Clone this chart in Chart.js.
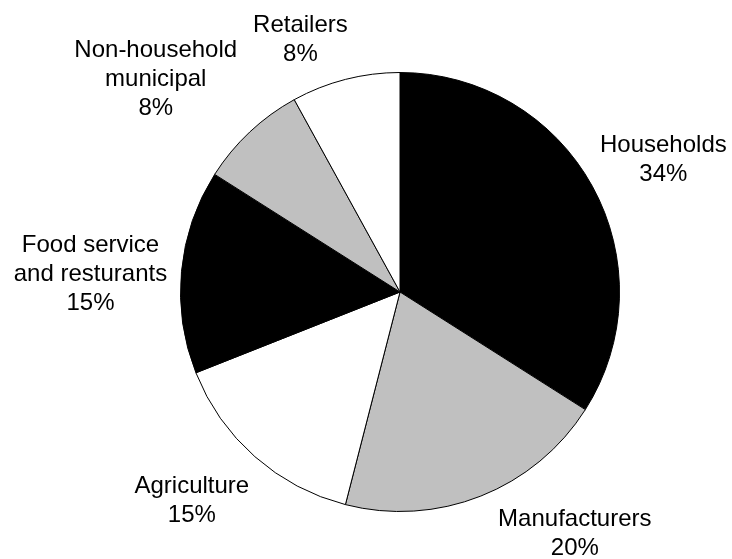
<!DOCTYPE html>
<html>
<head>
<meta charset="utf-8">
<script src="https://cdn.jsdelivr.net/npm/chart.js@4"></script>
<style>
  html, body { margin: 0; padding: 0; background: #fff; }
  #wrap { width: 732px; height: 559px; }
</style>
</head>
<body>
<div id="wrap"><canvas id="c" width="732" height="559"></canvas></div>
<script>
// Data
const categories = ["Households", "Manufacturers", "Agriculture", "Food service and resturants", "Non-household municipal", "Retailers"];
const labelLines = [["Households"], ["Manufacturers"], ["Agriculture"], ["Food service", "and resturants"], ["Non-household", "municipal"], ["Retailers"]];
const shares = [34, 20, 15, 15, 8, 8];

// Styles / layout (kept separate from data)
const sliceColors = ["#000000", "#c0c0c0", "#ffffff", "#000000", "#c0c0c0", "#ffffff"];
// label anchor offsets relative to the outer edge point at each slice's mid-angle
const labelOffsets = [[71, -34], [94, 30], [-63, 36], [-91, -19], [-94, -75], [-45, -47]];
const labelFont = '24px "Liberation Sans", Arial, sans-serif';
const lineHeight = 29;

const labelPlugin = {
  id: 'sliceLabels',
  afterDatasetsDraw(chart) {
    const ctx = chart.ctx;
    const meta = chart.getDatasetMeta(0);
    ctx.save();
    ctx.font = labelFont;
    ctx.fillStyle = '#000';
    ctx.textAlign = 'center';
    ctx.textBaseline = 'alphabetic';
    meta.data.forEach((arc, i) => {
      const p = arc.getProps(['x', 'y', 'startAngle', 'endAngle', 'outerRadius'], true);
      const mid = (p.startAngle + p.endAngle) / 2;
      const px = p.x + Math.cos(mid) * p.outerRadius;
      const py = p.y + Math.sin(mid) * p.outerRadius;
      const ax = px + labelOffsets[i][0];
      let ay = py + labelOffsets[i][1];
      const lines = labelLines[i].concat([shares[i] + '%']);
      lines.forEach((t, k) => {
        ctx.fillText(t, ax, ay + k * lineHeight);
      });
    });
    ctx.restore();
  }
};

new Chart(document.getElementById('c'), {
  type: 'pie',
  data: {
    labels: categories,
    datasets: [{
      data: shares,
      backgroundColor: sliceColors,
      borderColor: '#000000',
      borderWidth: 1
    }]
  },
  options: {
    responsive: false,
    devicePixelRatio: 1,
    animation: false,
    layout: { padding: { left: 180, right: 112, top: 72, bottom: 47 } },
    plugins: {
      legend: { display: false },
      tooltip: { enabled: false }
    }
  },
  plugins: [labelPlugin]
});
</script>
</body>
</html>
